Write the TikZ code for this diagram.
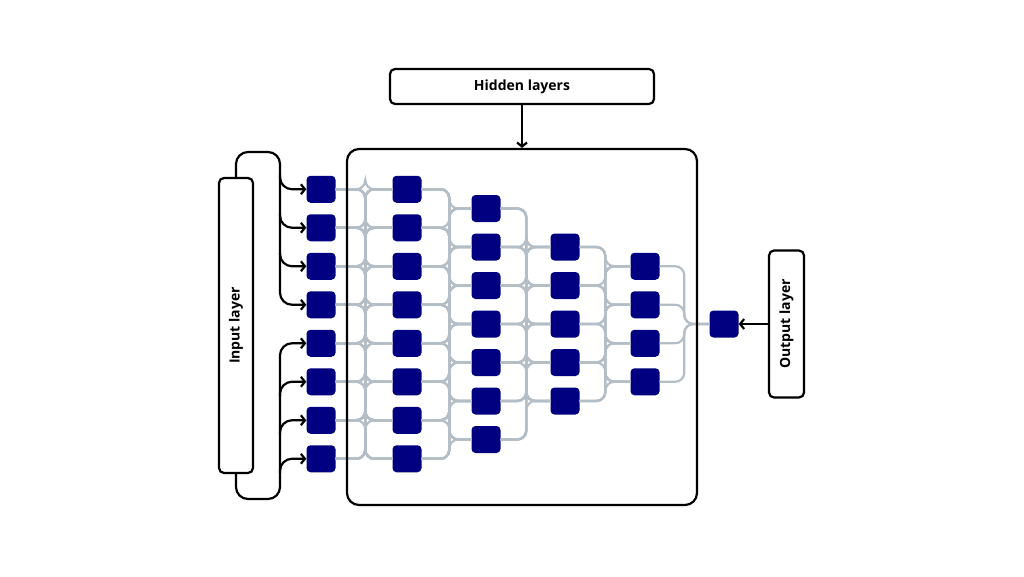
\documentclass[tikz,border=0pt]{standalone}
\usepackage{fontspec}
\setmainfont{Open Sans}
\usetikzlibrary{arrows.meta, positioning, calc}

\definecolor{neuronblue}{RGB}{0,0,128}
\definecolor{wiregrey}{RGB}{180,190,198}

\tikzset{
  neuron/.style={fill=neuronblue, rounded corners=4pt, minimum width=29pt, minimum height=27pt, inner sep=0pt},
  wire/.style={wiregrey, line width=2.2pt, rounded corners=9pt},
  frame/.style={draw, line width=2.2pt, rounded corners=5pt, inner sep=0pt, font=\bfseries\fontsize{14}{16}\selectfont},
  feed/.style={line width=2.2pt, rounded corners=12pt, -{Straight Barb[length=4pt,width=10pt]}}
}

\begin{document}
\begin{tikzpicture}[x=1pt, y=-1pt]
  \useasboundingbox (0,0) rectangle (1024,576);
  \def\rowgap{38.5}
  \def\midrow{324}

  % Neurons
  \foreach \l/\x/\n in {1/321/8, 2/407/8, 3/486/7, 4/565/5, 5/645/4, 6/724/1}
    \foreach \i in {1,...,\n}
      \node[neuron] (n\l-\i) at (\x,{\midrow+(\i-(\n+1)/2)*\rowgap}) {};

  % Wires
  \foreach \l/\na/\m/\nb/\gap in {1/8/2/8/27, 2/8/3/7/22, 3/7/4/5/24, 4/5/5/4/25, 5/4/6/1/25}
    \foreach \i in {1,...,\na}
      \foreach \j in {1,...,\nb}
        \draw[wire] (n\l-\i.east) -| ($(n\m-\j.west)+(-\gap,0)$) -- (n\m-\j.west);

  % Boxes
  \node[frame, minimum width=350pt, minimum height=356pt, rounded corners=12pt] (hidden) at (522,327) {};
  \node[frame, minimum width=264pt, minimum height=35pt] (hlabel) at (522,86.5) {Hidden layers};
  \node[frame, rotate=90, minimum width=295pt, minimum height=34pt] (ilabel) at (236,325.5) {Input layer};
  \node[frame, rotate=90, minimum width=147pt, minimum height=35pt] (olabel) at (786.5,324) {Output layer};

  % Arrows
  \draw[feed] (hlabel) -- (hidden);
  \draw[feed] (olabel.north) -- (n6-1);

  % Input bracket
  \coordinate (ibus) at (280,152);
  \coordinate (ibusb) at (280,499);
  \draw[feed] (ilabel.east) |- (ibus) |- (n1-4.west);
  \draw[feed] (ilabel.west) |- (ibusb) |- (n1-5.west);
  \foreach \i in {1,2,3}
    \draw[feed] ($(n1-\i.west -| ibus)+(0,-14)$) |- (n1-\i.west);
  \foreach \i in {6,7,8}
    \draw[feed] ($(n1-\i.west -| ibus)+(0,14)$) |- (n1-\i.west);
\end{tikzpicture}
\end{document}
